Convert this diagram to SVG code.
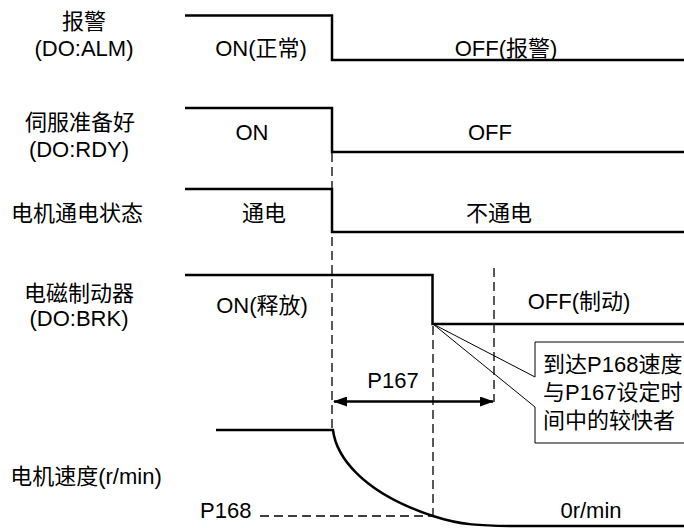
<svg xmlns="http://www.w3.org/2000/svg" width="684" height="528" viewBox="0 0 684 528">
<defs>
<style>
text{font-family:"Liberation Sans","Noto Sans CJK SC",Arial,sans-serif;font-size:22px;fill:#000}
.m{text-anchor:middle}
.sig{fill:none;stroke:#000;stroke-width:2.5}
.dash{fill:none;stroke:#000;stroke-width:1.3;stroke-dasharray:9,5}
.thin{fill:none;stroke:#000;stroke-width:1}
</style>
<marker id="ah" viewBox="0 0 14 10" refX="13" refY="5" markerWidth="14" markerHeight="10" markerUnits="userSpaceOnUse" orient="auto-start-reverse">
<path d="M0,0 L14,5 L0,10 Z" fill="#000"/>
</marker>
</defs>
<rect width="684" height="528" fill="#fff"/>

<g id="alm">
<text class="m" x="84" y="29">报警</text>
<text class="m" x="84" y="56">(DO:ALM)</text>
<path class="sig" d="M185,15.5 H332 V60 H684"/>
<text class="m" x="261" y="56">ON(正常)</text>
<text class="m" x="506" y="56">OFF(报警)</text>
</g>

<g id="rdy">
<text class="m" x="80" y="130">伺服准备好</text>
<text class="m" x="79" y="157">(DO:RDY)</text>
<path class="sig" d="M185,108 H332 V152 H684"/>
<text class="m" x="252" y="140">ON</text>
<text class="m" x="490" y="140">OFF</text>
</g>

<g id="power">
<text class="m" x="77" y="221">电机通电状态</text>
<path class="sig" d="M185,189 H332 V232 H684"/>
<text class="m" x="264" y="221">通电</text>
<text class="m" x="499" y="221">不通电</text>
</g>

<g id="brk">
<text class="m" x="79" y="301">电磁制动器</text>
<text class="m" x="79" y="326">(DO:BRK)</text>
<path class="sig" d="M185,275 H432.5 V324 H684"/>
<text class="m" x="262" y="313">ON(释放)</text>
<text class="m" x="579" y="309">OFF(制动)</text>
</g>

<g id="speed">
<text class="m" x="86" y="484">电机速度(r/min)</text>
<path class="sig" d="M216,430 H333 C336,455 360,492 433,516 C460,525 480,526 520,526 H684"/>
<text x="200" y="518">P168</text>
<text class="m" x="591" y="518">0r/min</text>
</g>

<g id="note">
<path d="M684,342 H535 V377 L433,324 L535,407 V443 H684" fill="#fff" stroke="#000" stroke-width="1"/>
<text x="543" y="372">到达P168速度</text>
<text x="543" y="400">与P167设定时</text>
<text x="543" y="428">间中的较快者</text>
</g>

<g id="connectors">
<path class="dash" d="M332,153 V428"/>
<path class="dash" d="M433,326 V516"/>
<path class="dash" d="M494,268 V402"/>
<path class="dash" d="M260,516 H433"/>
<path class="sig" d="M334,401.5 H493" marker-start="url(#ah)" marker-end="url(#ah)"/>
<text class="m" x="393" y="388">P167</text>
</g>
</svg>
